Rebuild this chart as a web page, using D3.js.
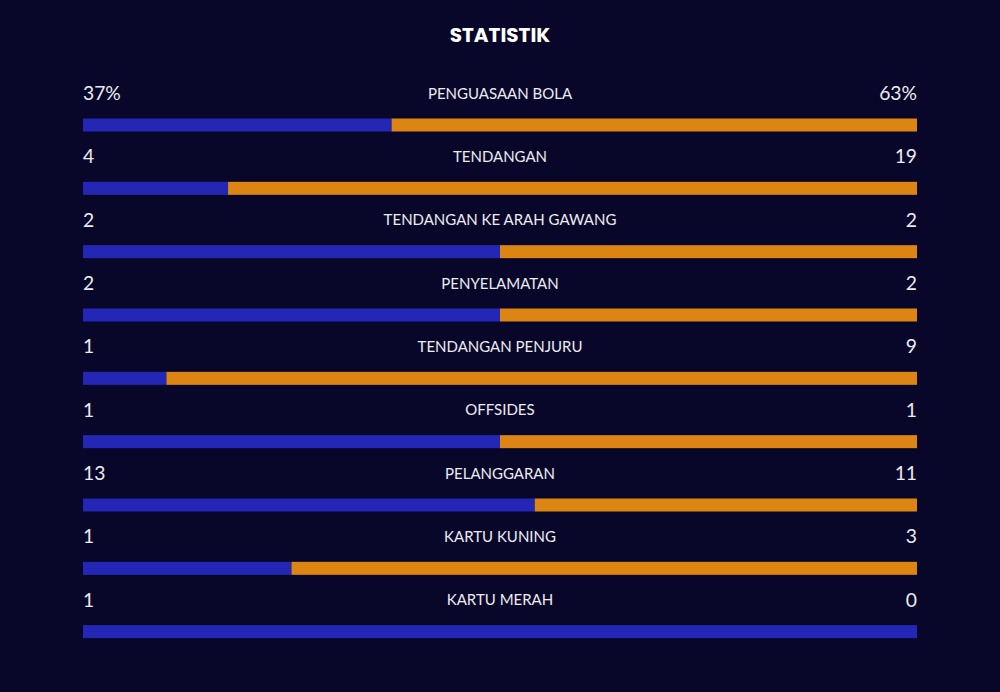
<!DOCTYPE html>
<html><head><meta charset="utf-8">
<script src="https://cdn.jsdelivr.net/npm/d3@7"></script>
<style>html,body{margin:0;padding:0;background:#08072a;}</style>
</head><body>
<script>
const categories = ["PENGUASAAN BOLA","TENDANGAN","TENDANGAN KE ARAH GAWANG","PENYELAMATAN","TENDANGAN PENJURU","OFFSIDES","PELANGGARAN","KARTU KUNING","KARTU MERAH"];
const homeValues = [37,4,2,2,1,1,13,1,1];
const awayValues = [63,19,2,2,9,1,11,3,0];
const homeLabels = ["37%","4","2","2","1","1","13","1","1"];
const awayLabels = ["63%","19","2","2","9","1","11","3","0"];

const W = 1000, H = 692;
const svg = d3.select("body").append("svg").attr("width", W).attr("height", H)
  .style("background", "#08072a").style("display","block");

svg.append("text").attr("x", 500).attr("y", 42).attr("text-anchor","middle")
  .attr("fill","#ffffff").attr("font-family","Poppins, 'Open Sans', sans-serif")
  .attr("font-weight",700).attr("font-size",20).text("STATISTIK");

const y = d3.scaleBand().domain(categories).range([86, 656]).padding(0);
const x = d3.scaleLinear().domain([0,1]).range([83, 917]);

const rows = svg.selectAll("g.row").data(categories).join("g").attr("class","row")
  .attr("transform", d => `translate(0,${y(d)})`);

rows.append("text").attr("x", 83).attr("y", 14)
  .attr("fill","#ececf0").attr("font-family","Lato, sans-serif").attr("font-size",19.3)
  .text((d,i) => homeLabels[i]);
rows.append("text").attr("x", 917).attr("y", 14).attr("text-anchor","end")
  .attr("fill","#ececf0").attr("font-family","Lato, sans-serif").attr("font-size",19.3)
  .text((d,i) => awayLabels[i]);
rows.append("text").attr("x", 500).attr("y", 12.5).attr("text-anchor","middle")
  .attr("fill","#ececf0").attr("font-family","Lato, sans-serif").attr("font-size",15)
  .text(d => d);

rows.append("rect")
  .attr("x", x(0)).attr("y", 32.5)
  .attr("width", (d,i) => { const t = homeValues[i] + awayValues[i]; return x(homeValues[i]/t) - x(0); })
  .attr("height", 13).attr("fill", "#2427b6");
rows.append("rect")
  .attr("x", (d,i) => { const t = homeValues[i] + awayValues[i]; return x(homeValues[i]/t); })
  .attr("y", 32.5)
  .attr("width", (d,i) => { const t = homeValues[i] + awayValues[i]; return x(1) - x(homeValues[i]/t); })
  .attr("height", 13).attr("fill", "#dd8513");
</script>
</body></html>
